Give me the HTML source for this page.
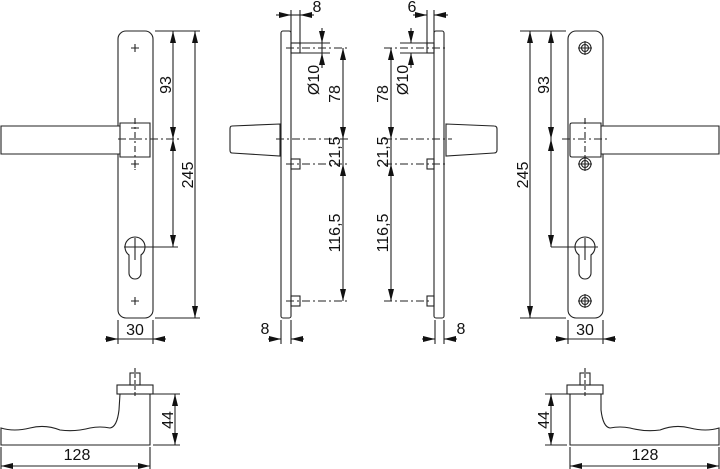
<!DOCTYPE html>
<html><head><meta charset="utf-8"><style>
html,body{margin:0;padding:0;background:#fff;}
svg{display:block;}
text{font-family:"Liberation Sans",sans-serif;font-size:16px;fill:#111;}
</style></head><body>
<svg width="720" height="469" viewBox="0 0 720 469" xmlns="http://www.w3.org/2000/svg">
<defs>
<marker id="a" viewBox="0 0 12 6" refX="12" refY="3" markerWidth="12" markerHeight="6" markerUnits="userSpaceOnUse" orient="auto-start-reverse"><path d="M0,0 L12,3 L0,6 Z" fill="#111"/></marker>
</defs>
<g stroke="#222" stroke-width="1.1" fill="none">
<!-- LEFT FRONT VIEW -->
<rect x="118" y="31" width="35" height="287" rx="8"/>
<path d="M1,126 H120 V123 H150 V157 H120 V154 H1 Z" fill="#fff"/>
<line x1="120" y1="126" x2="120" y2="154"/>
<path d="M118,139 H180" stroke-dasharray="8,3,2,3"/>
<path d="M135,118 V170" stroke-dasharray="6,3,2,3"/>
<path d="M131,48 h8 M135,44 v8 M131,128 h8 M131,139 h8 M131,164 h8 M135,160 v8 M131,301 h8 M135,297 v8"/>
<path d="M129,255 A10,10 0 1 1 141,255 L141,273 A6,6 0 0 1 129,273 Z"/>
<path d="M124,247 H178 M135,238 V260"/>
<path d="M155,31 H200 M155,318 H200"/>
<line x1="173" y1="31" x2="173" y2="139" marker-start="url(#a)" marker-end="url(#a)"/>
<line x1="173" y1="139" x2="173" y2="247" marker-start="url(#a)" marker-end="url(#a)"/>
<line x1="195" y1="31" x2="195" y2="318" marker-start="url(#a)" marker-end="url(#a)"/>
<path d="M118,320 V344 M153,320 V344"/>
<line x1="105" y1="339" x2="118" y2="339" marker-end="url(#a)"/>
<line x1="166" y1="339" x2="153" y2="339" marker-end="url(#a)"/>
<line x1="118" y1="339" x2="153" y2="339"/>

<!-- LEFT SIDE VIEW -->
<rect x="281" y="31" width="10" height="287" rx="2"/>
<path d="M280,124 L232,126 Q230,126 230,129 L230,150 Q230,153 232,153 L280,156 Z"/>
<rect x="291" y="43" width="9" height="10"/>
<rect x="291" y="159" width="9" height="10"/>
<rect x="291" y="296" width="9" height="10"/>
<path d="M276,139 H350 M286,164 H350 M286,48 H350 M286,301 H350" stroke-dasharray="8,3,2,3"/>
<path d="M291,10 V40 M300,10 V45 M300,43 H330 M300,53 H330"/>
<line x1="276" y1="15" x2="291" y2="15" marker-end="url(#a)"/>
<line x1="314" y1="15" x2="300" y2="15" marker-end="url(#a)"/>
<line x1="291" y1="15" x2="300" y2="15"/>
<line x1="322" y1="28" x2="322" y2="43" marker-end="url(#a)"/>
<line x1="322" y1="68" x2="322" y2="53" marker-end="url(#a)"/>
<line x1="322" y1="43" x2="322" y2="53"/>
<line x1="343" y1="48" x2="343" y2="139" marker-start="url(#a)" marker-end="url(#a)"/>
<line x1="343" y1="139" x2="343" y2="164"/>
<line x1="343" y1="164" x2="343" y2="301" marker-start="url(#a)" marker-end="url(#a)"/>
<path d="M281,320 V344 M291,320 V344"/>
<line x1="268" y1="339" x2="281" y2="339" marker-end="url(#a)"/>
<line x1="304" y1="339" x2="291" y2="339" marker-end="url(#a)"/>

<!-- RIGHT SIDE VIEW -->
<rect x="434" y="31" width="10" height="287" rx="2"/>
<path d="M446,124 L494,126 Q497,126 497,129 L497,150 Q497,153 494,153 L446,156 Z"/>
<rect x="427" y="43" width="7" height="10"/>
<rect x="427" y="159" width="7" height="10"/>
<rect x="427" y="296" width="7" height="10"/>
<path d="M384,139 H452 M384,164 H448 M384,48 H448 M384,301 H430" stroke-dasharray="8,3,2,3"/>
<path d="M427,10 V45 M434,10 V40 M400,43 H427 M400,53 H427"/>
<line x1="413" y1="15" x2="427" y2="15" marker-end="url(#a)"/>
<line x1="448" y1="15" x2="434" y2="15" marker-end="url(#a)"/>
<line x1="411" y1="28" x2="411" y2="43" marker-end="url(#a)"/>
<line x1="411" y1="68" x2="411" y2="53" marker-end="url(#a)"/>
<line x1="391" y1="48" x2="391" y2="139" marker-start="url(#a)" marker-end="url(#a)"/>
<line x1="391" y1="139" x2="391" y2="164"/>
<line x1="391" y1="164" x2="391" y2="301" marker-start="url(#a)" marker-end="url(#a)"/>
<path d="M435,320 V344 M444,320 V344"/>
<line x1="422" y1="339" x2="435" y2="339" marker-end="url(#a)"/>
<line x1="457" y1="339" x2="444" y2="339" marker-end="url(#a)"/>

<!-- RIGHT FRONT VIEW -->
<rect x="568" y="31" width="35" height="287" rx="8"/>
<path d="M719,126 H601 V123 H572 Q570,123 570,125 V155 Q570,157 572,157 H601 V154 H719 Z" fill="#fff"/>
<line x1="601" y1="126" x2="601" y2="154"/>
<path d="M562,139 H610" stroke-dasharray="8,3,2,3"/>
<path d="M585,118 V170" stroke-dasharray="6,3,2,3"/>
<circle cx="585" cy="48" r="6"/><circle cx="585" cy="48" r="3.5"/><path d="M578,48 h14 M585,41 v14"/>
<circle cx="585" cy="164" r="6"/><circle cx="585" cy="164" r="3.5"/><path d="M578,164 h14 M585,157 v14"/>
<circle cx="585" cy="301" r="6"/><circle cx="585" cy="301" r="3.5"/><path d="M578,301 h14 M585,294 v14"/>
<path d="M579,255 A10,10 0 1 1 591,255 L591,273 A6,6 0 0 1 579,273 Z"/>
<path d="M551,247 H598 M585,238 V260"/>
<path d="M520,31 H566 M520,318 H566"/>
<line x1="551" y1="31" x2="551" y2="139" marker-start="url(#a)" marker-end="url(#a)"/>
<line x1="551" y1="139" x2="551" y2="247" marker-start="url(#a)" marker-end="url(#a)"/>
<line x1="530" y1="31" x2="530" y2="318" marker-start="url(#a)" marker-end="url(#a)"/>
<path d="M568,320 V344 M603,320 V344"/>
<line x1="555" y1="339" x2="568" y2="339" marker-end="url(#a)"/>
<line x1="616" y1="339" x2="603" y2="339" marker-end="url(#a)"/>
<line x1="568" y1="339" x2="603" y2="339"/>

<!-- BOTTOM LEFT PROFILE -->
<path d="M1,445 V428 Q14,432 30,428 Q45,424 60,430 Q75,432 90,428 Q100,426 110,428 Q117,427 119,410 L120,394 H150 V445 Z"/>
<rect x="117" y="385" width="36" height="9"/>
<rect x="130" y="373" width="10" height="12"/>
<path d="M135,368 V398" stroke-dasharray="4,2"/>
<path d="M153,394 H180 M153,445 H180"/>
<line x1="175" y1="394" x2="175" y2="445" marker-start="url(#a)" marker-end="url(#a)"/>
<path d="M1,447 V469 M150,447 V469"/>
<line x1="1" y1="466" x2="150" y2="466" marker-start="url(#a)" marker-end="url(#a)"/>

<!-- BOTTOM RIGHT PROFILE -->
<path d="M719,445 V428 Q706,432 690,428 Q675,424 660,430 Q645,432 630,428 Q620,426 610,428 Q603,427 601,410 L601,394 H570 V445 Z"/>
<rect x="567" y="385" width="36" height="9"/>
<rect x="580" y="373" width="10" height="12"/>
<path d="M585,368 V398" stroke-dasharray="4,2"/>
<path d="M545,394 H567 M545,445 H567"/>
<line x1="551" y1="394" x2="551" y2="445" marker-start="url(#a)" marker-end="url(#a)"/>
<path d="M570,447 V469 M719,447 V469"/>
<line x1="570" y1="466" x2="719" y2="466" marker-start="url(#a)" marker-end="url(#a)"/>
</g>

<g>
<text x="135" y="335" text-anchor="middle">30</text>
<text transform="translate(171,85) rotate(-90)" text-anchor="middle">93</text>
<text transform="translate(193,175) rotate(-90)" text-anchor="middle">245</text>
<text x="265" y="334" text-anchor="middle">8</text>
<text x="317" y="12" text-anchor="middle">8</text>
<text transform="translate(319,80) rotate(-90)" text-anchor="middle">Ø10</text>
<text transform="translate(340,94) rotate(-90)" text-anchor="middle">78</text>
<text transform="translate(340,152) rotate(-90)" text-anchor="middle">21,5</text>
<text transform="translate(340,233) rotate(-90)" text-anchor="middle">116,5</text>
<text x="412" y="12" text-anchor="middle">6</text>
<text transform="translate(408,80) rotate(-90)" text-anchor="middle">Ø10</text>
<text transform="translate(388,94) rotate(-90)" text-anchor="middle">78</text>
<text transform="translate(388,152) rotate(-90)" text-anchor="middle">21,5</text>
<text transform="translate(388,233) rotate(-90)" text-anchor="middle">116,5</text>
<text x="461" y="334" text-anchor="middle">8</text>
<text x="585" y="335" text-anchor="middle">30</text>
<text transform="translate(549,85) rotate(-90)" text-anchor="middle">93</text>
<text transform="translate(528,175) rotate(-90)" text-anchor="middle">245</text>
<text transform="translate(173,420) rotate(-90)" text-anchor="middle">44</text>
<text x="77" y="460" text-anchor="middle">128</text>
<text transform="translate(549,420) rotate(-90)" text-anchor="middle">44</text>
<text x="645" y="460" text-anchor="middle">128</text>
</g>
</svg>
</body></html>
